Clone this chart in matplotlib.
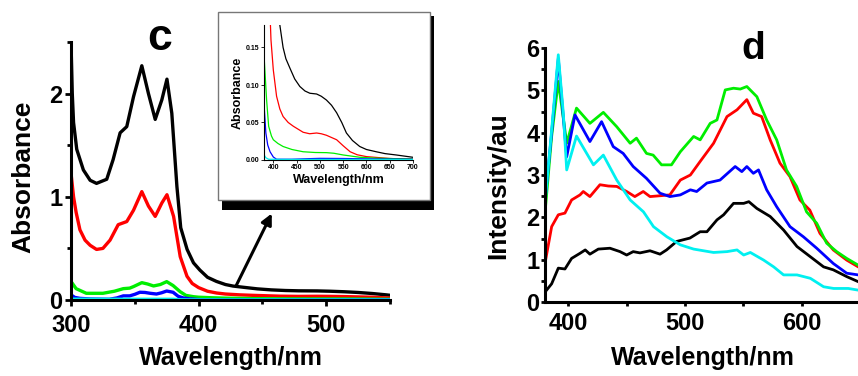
import matplotlib.pyplot as plt
from matplotlib.patches import Rectangle
from matplotlib.ticker import MultipleLocator, FormatStrFormatter

plt.rcParams['font.family'] = ['Liberation Sans', 'DejaVu Sans']
plt.rcParams['font.weight'] = 'bold'
plt.rcParams['axes.labelweight'] = 'bold'

# ---- panel c : absorbance ----
wl_black = [300, 301, 302, 304.5, 309.7, 315, 320, 328, 333, 338.5, 343.7, 349, 355.5, 360.7, 366,
            371.2, 375.2, 379, 383, 386, 391, 396, 401, 407, 414, 421, 427, 436, 446, 457, 468,
            478.5, 493, 503, 514, 525, 536, 547, 557, 570, 585.6, 600, 621, 640, 664, 700]
abs_black = [2.5, 2.0, 1.72, 1.46, 1.26, 1.16, 1.13, 1.17, 1.36, 1.62, 1.68, 1.97, 2.27, 2.0, 1.75,
             1.94, 2.14, 1.81, 1.10, 0.70, 0.49, 0.36, 0.29, 0.22, 0.18, 0.15, 0.135, 0.122, 0.108, 0.098, 0.092,
             0.089, 0.088, 0.085, 0.080, 0.073, 0.063, 0.05, 0.036, 0.026, 0.018, 0.014, 0.011, 0.0085, 0.0067, 0.0036]

wl_red = [300, 302, 304, 307, 311, 315, 320, 325, 330.6, 337, 343.7, 349, 355.5, 360.7, 366, 371.2,
          375.2, 380.4, 385.6, 390.9, 395, 400, 407, 414, 421, 432, 443, 464, 478, 493, 503, 514,
          525, 536, 550, 565, 580, 600, 650, 700]
abs_red = [1.23, 1.0, 0.85, 0.68, 0.58, 0.53, 0.49, 0.5, 0.58, 0.73, 0.76, 0.87, 1.05, 0.91, 0.81, 0.94,
           1.02, 0.81, 0.42, 0.23, 0.16, 0.12, 0.085, 0.068, 0.058, 0.05, 0.045, 0.037, 0.035, 0.036, 0.035, 0.033,
           0.03, 0.027, 0.019, 0.011, 0.007, 0.0045, 0.002, 0.001]

wl_green = [300, 304, 312, 325, 334, 341, 346, 349, 355.5, 360, 364.7, 370, 375, 380, 385.6, 390,
            396, 400, 410, 421, 440, 464, 490, 514, 530, 550, 570, 586, 620, 660, 700]
abs_green = [0.18, 0.11, 0.065, 0.065, 0.085, 0.11, 0.115, 0.13, 0.168, 0.155, 0.136, 0.15, 0.178, 0.14, 0.08, 0.045,
             0.032, 0.027, 0.022, 0.018, 0.014, 0.011, 0.010, 0.0098, 0.009, 0.0067, 0.005, 0.0036, 0.0025, 0.0018, 0.0013]

wl_blue = [300, 303, 307, 315, 330, 336, 341, 346, 350, 354, 358, 362, 367, 371, 375, 380, 384, 388,
           393, 400, 407, 440, 478, 500, 550, 621, 700]
abs_blue = [0.05, 0.025, 0.016, 0.01, 0.007, 0.02, 0.04, 0.04, 0.055, 0.075, 0.073, 0.065, 0.058, 0.07, 0.087, 0.075, 0.036, 0.02,
            0.011, 0.004, 0.001, 0.001, 0.0018, 0.0022, 0.002, 0.0013, 0.001]

wl_cyan = [300, 350, 380, 384, 390, 450, 550, 700]
abs_cyan = [0.008, 0.007, 0.007, 0.003, 0.001, 0.0008, 0.0008, 0.0005]

# ---- panel d : emission ----
em_wl_black = [379, 385.7, 391.4, 397.1, 402.8, 410, 414.5, 418.5, 425.7, 435.7, 444.3, 450, 455.6, 461.4, 470,
               478.6, 484.2, 492.8, 504.2, 513, 518.8, 527.4, 533.1, 541.6, 550.3, 554.7, 561.6, 573, 584.5,
               596, 607.4, 618.8, 627.1, 638.6, 648.5]
em_black = [0.2, 0.43, 0.8, 0.78, 1.03, 1.15, 1.23, 1.13, 1.25, 1.27, 1.19, 1.11, 1.19, 1.16, 1.21,
            1.13, 1.23, 1.43, 1.51, 1.66, 1.66, 1.94, 2.06, 2.33, 2.33, 2.37, 2.21, 2.02, 1.70,
            1.31, 1.07, 0.83, 0.76, 0.60, 0.48]

em_wl_red = [379, 385.7, 391.4, 397.1, 402.8, 410, 412.8, 418.5, 427.1, 434.2, 441.5, 450, 457, 464.2, 470,
             478.6, 487, 496, 504.6, 513, 524.5, 536, 544.6, 553, 558.6, 565.7, 573, 581.4, 590, 598.5,
             607, 615.7, 627.1, 638.6, 648.5]
em_red = [0.76, 1.78, 2.06, 2.10, 2.41, 2.53, 2.61, 2.49, 2.77, 2.74, 2.73, 2.61, 2.49, 2.61, 2.49,
          2.51, 2.53, 2.88, 3.0, 3.32, 3.75, 4.38, 4.54, 4.78, 4.46, 4.38, 3.83, 3.28, 2.96, 2.41,
          2.17, 1.62, 1.23, 0.99, 0.83]

em_wl_green = [379, 385.7, 391.4, 398.6, 407, 418.5, 430, 441.5, 453, 458.4, 467, 472.7, 479.9, 488.4, 496,
               507.4, 513, 521.6, 527.4, 534.5, 541.6, 547.4, 553, 561.6, 570, 578.6, 587, 595.7, 604.2,
               612.9, 621.4, 630, 638.6, 648.5]
em_green = [1.78, 3.91, 5.21, 3.75, 4.58, 4.22, 4.48, 4.14, 3.75, 3.87, 3.51, 3.47, 3.24, 3.24, 3.55,
            3.91, 3.83, 4.22, 4.30, 5.01, 5.05, 5.03, 5.09, 4.85, 4.30, 3.83, 3.12, 2.73, 2.13,
            1.86, 1.39, 1.19, 1.03, 0.87]

em_wl_blue = [379, 385.7, 391.4, 398.6, 405.7, 418.5, 428.5, 438.5, 447, 455.6, 467, 478.6, 487, 496, 504.6,
              510, 518.8, 530, 543, 548.7, 553, 558.6, 563, 570, 578.6, 590, 601.5, 612.9, 627.1, 638.6, 648.5]
em_blue = [2.1, 4.0, 5.75, 3.43, 4.42, 3.79, 4.26, 3.67, 3.51, 3.2, 2.92, 2.57, 2.49, 2.53, 2.65,
           2.61, 2.81, 2.88, 3.2, 3.08, 3.2, 3.04, 3.12, 2.65, 2.25, 1.78, 1.54, 1.27, 0.91, 0.68, 0.64]

em_wl_cyan = [379, 385.7, 391.4, 395.7, 398.6, 407, 421.5, 430, 441.5, 453, 464.4, 473, 484.5, 496, 507.4,
              524.5, 536, 544.6, 550.3, 556, 567.4, 576, 584.5, 596, 607.4, 618.8, 627.4, 640, 648.5]
em_cyan = [2.02, 4.07, 5.84, 4.46, 3.12, 3.92, 3.24, 3.47, 2.88, 2.41, 2.13, 1.78, 1.54, 1.35, 1.25,
           1.17, 1.19, 1.23, 1.11, 1.17, 0.99, 0.83, 0.64, 0.64, 0.56, 0.36, 0.32, 0.32, 0.28]

colors = ['black', 'red', '#00ee00', 'blue', '#00f0f0']

W, H = 858, 376
fig = plt.figure(figsize=(W / 100, H / 100), dpi=100)


def box(x0, y0, x1, y1):   # pixel box, origin top-left -> figure fraction
    return [x0 / W, 1 - y1 / H, (x1 - x0) / W, (y1 - y0) / H]


def style(ax, lw=2.2):
    for s in ['top', 'right']:
        ax.spines[s].set_visible(False)
    for s in ['left', 'bottom']:
        ax.spines[s].set_linewidth(lw)


# panel c
ax1 = fig.add_axes(box(71, 42, 390, 300))
for x, y, c in zip([wl_black, wl_red, wl_green, wl_blue, wl_cyan],
                   [abs_black, abs_red, abs_green, abs_blue, abs_cyan], colors):
    ax1.plot(x, y, color=c, lw=2.4)
ax1.set_xlim(300, 550)
ax1.set_ylim(0, 2.5)
ax1.xaxis.set_major_locator(MultipleLocator(100))
ax1.xaxis.set_minor_locator(MultipleLocator(50))
ax1.yaxis.set_major_locator(MultipleLocator(1))
ax1.yaxis.set_minor_locator(MultipleLocator(0.5))
style(ax1)
ax1.tick_params(which='both', direction='out', width=2, labelsize=17)
ax1.tick_params(which='major', length=4, pad=2)
ax1.tick_params(axis='x', which='major', pad=6)
ax1.tick_params(which='minor', length=3)
ax1.set_xlabel('Wavelength/nm', fontsize=18)
ax1.set_ylabel('Absorbance', fontsize=19)
ax1.xaxis.set_label_coords(0.5, -0.225)
ax1.xaxis.label.set_va('center')
ax1.yaxis.set_label_coords(-0.15, 0.477)
ax1.yaxis.label.set_va('center')
fig.text(160 / W, 1 - 38 / H, 'c', fontsize=32, ha='center', va='center')

# arrow to inset
ax1.annotate('', xy=(273, H - 211), xytext=(235, H - 288), xycoords='figure pixels',
             textcoords='figure pixels', annotation_clip=False,
             arrowprops=dict(arrowstyle='-|>', color='black', lw=2.2, mutation_scale=16))

# inset frame with shadow
fig.add_artist(Rectangle((222 / W, 1 - 210 / H), 212 / W, 194 / H, transform=fig.transFigure,
                         facecolor='black', edgecolor='none', zorder=1))
fig.add_artist(Rectangle((218 / W, 1 - 200 / H), 212 / W, 188 / H, transform=fig.transFigure,
                         facecolor='white', edgecolor='#777777', lw=1, zorder=2))

ins = fig.add_axes(box(264, 25, 413, 160), zorder=3)
for x, y, c in zip([wl_black, wl_red, wl_green, wl_blue, wl_cyan],
                   [abs_black, abs_red, abs_green, abs_blue, abs_cyan], colors):
    ins.plot(x, y, color=c, lw=0.9)
ins.set_xlim(380, 700)
ins.set_ylim(0, 0.18)
ins.xaxis.set_major_locator(MultipleLocator(50))
ins.yaxis.set_major_locator(MultipleLocator(0.05))
ins.yaxis.set_major_formatter(FormatStrFormatter('%.2f'))
style(ins, lw=0.8)
ins.tick_params(direction='out', length=2, width=0.6, labelsize=5, pad=1)
ins.set_xlabel('Wavelength/nm', fontsize=9, labelpad=2)
ins.set_ylabel('Absorbance', fontsize=9, labelpad=2)

# panel d
ax2 = fig.add_axes(box(545, 48, 860, 302))
for x, y, c in zip([em_wl_black, em_wl_red, em_wl_green, em_wl_blue, em_wl_cyan],
                   [em_black, em_red, em_green, em_blue, em_cyan], colors):
    ax2.plot(x, y, color=c, lw=2.0)
ax2.set_xlim(380, 650)
ax2.set_ylim(0, 6)
ax2.xaxis.set_major_locator(MultipleLocator(100))
ax2.xaxis.set_minor_locator(MultipleLocator(50))
ax2.yaxis.set_major_locator(MultipleLocator(1))
ax2.yaxis.set_minor_locator(MultipleLocator(0.5))
style(ax2)
ax2.tick_params(which='both', direction='out', width=2, labelsize=17)
ax2.tick_params(which='major', length=3, pad=1)
ax2.tick_params(axis='x', which='major', pad=4)
ax2.tick_params(which='minor', length=3)
ax2.set_xlabel('Wavelength/nm', fontsize=18)
ax2.set_ylabel('Intensity/au', fontsize=19)
ax2.xaxis.set_label_coords(0.5, -0.22)
ax2.xaxis.label.set_va('center')
ax2.yaxis.set_label_coords(-0.149, 0.46)
ax2.yaxis.label.set_va('center')
fig.text(753 / W, 1 - 49 / H, 'd', fontsize=28, ha='center', va='center')

plt.savefig('out.png', dpi=100)
